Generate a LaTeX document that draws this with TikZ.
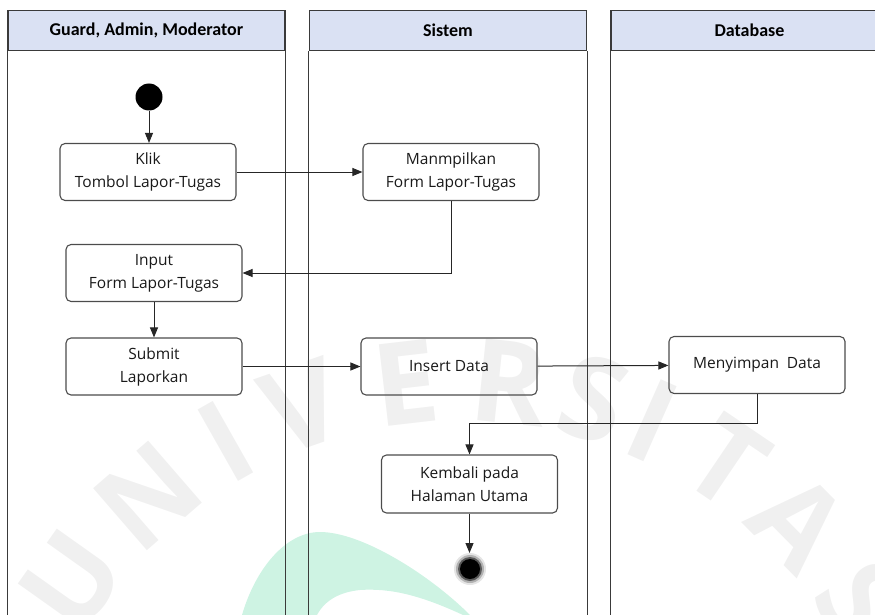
\documentclass[tikz,border=0pt]{standalone}
\usepackage{fontspec}
\setmainfont{Open Sans}
\newfontfamily\headfont{Carlito}
\usetikzlibrary{arrows.meta}
\definecolor{headfill}{HTML}{DAE1F3}
\definecolor{mint}{HTML}{CEF3E3}
\definecolor{lanegray}{HTML}{3A3A3A}

\begin{document}
\begin{tikzpicture}[x=1pt,y=-1pt,
  lane/.style={draw=lanegray, line width=1.2pt},
  lanehead/.style={draw=lanegray, fill=headfill, line width=1.5pt,
    minimum width=277pt, minimum height=40pt, inner sep=0pt,
    font=\headfont\bfseries\fontsize{18}{20}\selectfont},
  act/.style={draw=black!70, line width=1.1pt, rounded corners=5pt,
    minimum width=176pt, minimum height=57pt, align=center, inner sep=0pt,
    font=\fontsize{15.5}{23}\selectfont, text=black!90},
  flow/.style={draw=black!85, line width=1pt, -{Triangle[length=10pt,width=8pt]}},
  wm/.style={text=black!6, inner sep=0pt, font=\bfseries\fontsize{115}{115}\selectfont}
]
\useasboundingbox (0,0) rectangle (875,615);
\clip (0,0) rectangle (875,615);

% background mark: mint crescent and letters on an arc
\fill[mint] (242,615) .. controls (255,570) and (285,532) .. (320,532)
  .. controls (362,532) and (430,575) .. (470,615)
  -- (463,615) .. controls (420,595) and (390,588) .. (360,590)
  .. controls (340,592) and (325,600) .. (317,615) -- cycle;
\foreach \ch/\a in {U/144.6, N/130.9, I/119.5, V/109.3, E/96.6, R/84,
                    S/73.7, I/66.1, T/55.9, A/44.6, S/32.6}
  \node[wm, rotate=\a-90] at ({460+476*cos(\a)},{856-476*sin(\a)}) {\ch};

% swimlanes
\node[lanehead] (h1) at (146.5,30.5) {Guard, Admin, Moderator};
\node[lanehead] (h2) at (448,30.5) {Sistem};
\node[lanehead] (h3) at (749.5,30.5) {Database};
\draw[lane] (h1.south west) -- ++(0,580);
\draw[lane] (h1.south east) -- ++(0,580);
\draw[lane] (h2.south west) -- ++(0,580);
\draw[lane] (h2.south east) -- ++(0,580);
\draw[lane] (h3.south west) -- ++(0,580);

% activities
\node[circle, fill=black, minimum size=27pt, inner sep=0pt] (start) at (149,97) {};
\node[act] (klik)    at (148,172)   {Klik\\Tombol Lapor-Tugas};
\node[act] (tampil)  at (451,172)   {Manmpilkan\\Form Lapor-Tugas};
\node[act] (input)   at (154,273)   {Input\\Form Lapor-Tugas};
\node[act] (submit)  at (154,366.5) {Submit\\Laporkan};
\node[act] (insert)  at (449,366.5) {Insert Data};
\node[act] (simpan)  at (757,365)   {Menyimpan\hspace{0.25em} Data};
\node[act, minimum height=58pt] (kembali) at (469.5,484) {Kembali pada\\Halaman Utama};

% final node with soft rim
\fill[black!10] (470,569) circle (16);
\fill[black!30] (470,569) circle (14);
\fill[black!65] (470,569) circle (12);
\node[circle, fill=black, minimum size=20pt, inner sep=0pt] (end) at (470,569) {};

% control flow
\draw[flow] (start) -- (start |- klik.north);
\draw[flow] (klik) -- (tampil);
\draw[flow] (tampil.south) |- (input.east);
\draw[flow] (input) -- (submit);
\draw[flow] (submit) -- (insert);
\draw[flow] (insert) -- (simpan);
\draw[flow] (simpan.south) -- ++(0,29) -| (kembali.north);
\draw[flow] (kembali) -- (kembali.south |- 0,553);
\end{tikzpicture}
\end{document}
